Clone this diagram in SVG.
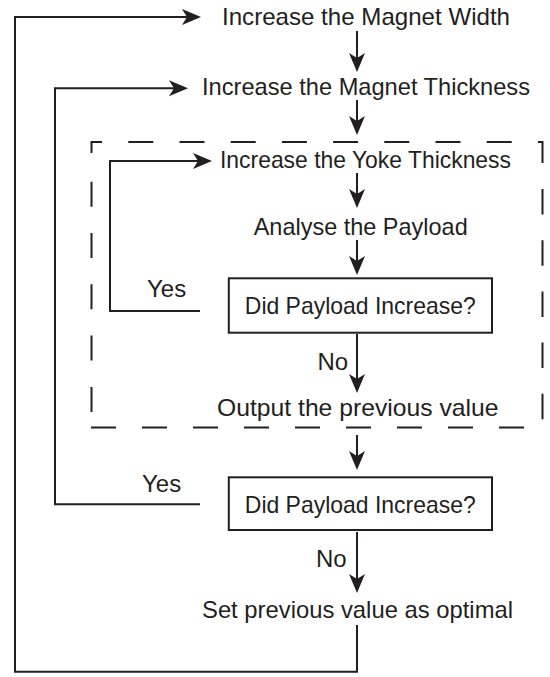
<svg xmlns="http://www.w3.org/2000/svg" width="550" height="677" viewBox="0 0 550 677">
  <style>
    text { font-family: "Liberation Sans", Arial, sans-serif; font-size: 24px; fill: #231f20; }
    .box { fill: #ffffff; stroke: #231f20; stroke-width: 2; }
    .conn { fill: none; stroke: #231f20; stroke-width: 2; }
    .dash { fill: none; stroke: #231f20; stroke-width: 2; }
  </style>
  <defs>
    <marker id="ah" markerUnits="userSpaceOnUse" markerWidth="30" markerHeight="20" viewBox="-20 -10 30 20" refX="-10" refY="0" orient="auto">
      <path d="M0,0 L-19,-8 L-14,0 L-19,8 Z" fill="#231f20"/>
    </marker>
  </defs>
  <rect width="550" height="677" fill="#ffffff"/>

  <g id="loop-box">
    <path class="dash" d="M91.5,153 V142 H102"/>
    <line class="dash" x1="128.3" y1="142" x2="512" y2="142" stroke-dasharray="25 26.2"/>
    <path class="dash" d="M538,142 H542.5 V163"/>
    <line class="dash" x1="91.5" y1="181.7" x2="91.5" y2="412" stroke-dasharray="25 26.3"/>
    <line class="dash" x1="542.5" y1="189" x2="542.5" y2="420" stroke-dasharray="25.5 25.7"/>
    <line class="dash" x1="91" y1="427.5" x2="525" y2="427.5" stroke-dasharray="25 26"/>
  </g>

  <g id="connectors">
    <path class="conn" d="M357,625 V671.7 H15 V17 H191" marker-end="url(#ah)"/>
    <line class="conn" x1="357" y1="31" x2="357" y2="62" marker-end="url(#ah)"/>
    <path class="conn" d="M200,504.3 H55 V88.3 H178" marker-end="url(#ah)"/>
    <line class="conn" x1="357" y1="100" x2="357" y2="125" marker-end="url(#ah)"/>
    <path class="conn" d="M200,311 H110 V161 H202" marker-end="url(#ah)"/>
    <line class="conn" x1="357" y1="173" x2="357" y2="198" marker-end="url(#ah)"/>
    <line class="conn" x1="357" y1="240" x2="357" y2="265" marker-end="url(#ah)"/>
    <line class="conn" x1="357" y1="334" x2="357" y2="383" marker-end="url(#ah)"/>
    <line class="conn" x1="357" y1="435" x2="357" y2="460" marker-end="url(#ah)"/>
    <line class="conn" x1="357" y1="532" x2="357" y2="583" marker-end="url(#ah)"/>
    <text x="147" y="296.7">Yes</text>
    <text x="317.5" y="370">No</text>
    <text x="142" y="491.7">Yes</text>
    <text x="316" y="566.7">No</text>
  </g>

  <g id="n-magnet-width">
    <text x="222" y="25" textLength="288" lengthAdjust="spacingAndGlyphs">Increase the Magnet Width</text>
  </g>
  <g id="n-magnet-thickness">
    <text x="202" y="94.5" textLength="328" lengthAdjust="spacingAndGlyphs">Increase the Magnet Thickness</text>
  </g>
  <g id="n-yoke-thickness">
    <text x="220" y="168.3" textLength="291" lengthAdjust="spacingAndGlyphs">Increase the Yoke Thickness</text>
  </g>
  <g id="n-analyse">
    <text x="253.7" y="235" textLength="214" lengthAdjust="spacingAndGlyphs">Analyse the Payload</text>
  </g>
  <g id="n-decision-1">
    <rect class="box" x="228.8" y="278.3" width="263.2" height="54.4"/>
    <text x="244.8" y="314" textLength="231" lengthAdjust="spacingAndGlyphs">Did Payload Increase?</text>
  </g>
  <g id="n-output">
    <text x="217" y="416" textLength="281.5" lengthAdjust="spacingAndGlyphs">Output the previous value</text>
  </g>
  <g id="n-decision-2">
    <rect class="box" x="228.8" y="477.3" width="263.2" height="52.7"/>
    <text x="244.8" y="513.3" textLength="231" lengthAdjust="spacingAndGlyphs">Did Payload Increase?</text>
  </g>
  <g id="n-set-optimal">
    <text x="202" y="618.3" textLength="311" lengthAdjust="spacingAndGlyphs">Set previous value as optimal</text>
  </g>
</svg>
